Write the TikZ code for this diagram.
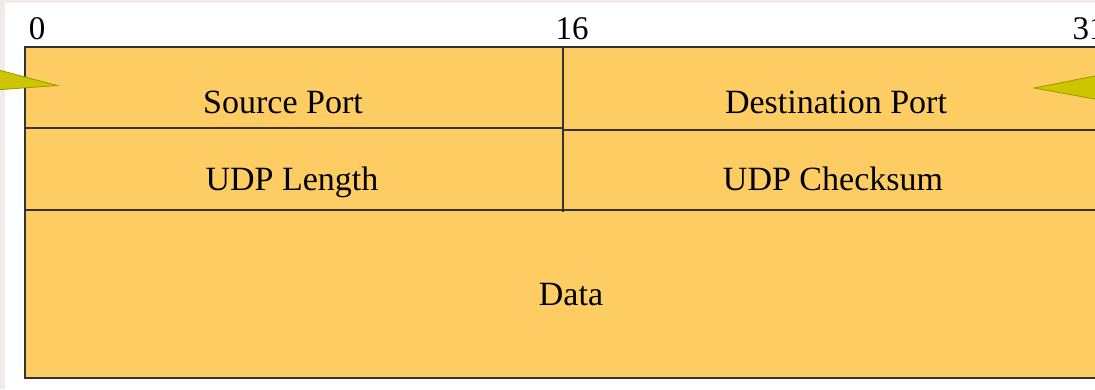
\documentclass[tikz,border=0pt]{standalone}
\usepackage{fontspec}
\setmainfont{Liberation Serif}
\definecolor{fieldfill}{HTML}{FDCD64}
\definecolor{lineclr}{HTML}{333333}
\definecolor{calloutfill}{HTML}{CCC600}
\definecolor{calloutline}{HTML}{9A9600}
\definecolor{pagebg}{HTML}{F3ECE6}
\tikzset{
  lbl/.style={font=\fontsize{34}{36}\selectfont, text=black, inner sep=0pt, anchor=base},
  bit/.style={font=\fontsize{33}{36}\selectfont, text=black, inner sep=0pt, anchor=base},
  rule/.style={draw=lineclr, line width=1.5pt},
  callout/.style={fill=calloutfill, draw=calloutline, line width=0.8pt}
}
\begin{document}
\begin{tikzpicture}[x=1pt,y=-1pt]
\useasboundingbox (0,0) rectangle (1095,389);
\fill[white] (0,0) rectangle (1095,389);
\fill[pagebg] (0,0) rectangle (1095,3);
\fill[pagebg] (0,0) rectangle (5,389);
\begin{scope}
\clip (0,0) rectangle (1095,389);
% fields
\fill[fieldfill] (25,47) rectangle (1100,378);
\node[lbl] (src) at (283,113) {Source Port};
\node[lbl] (dst) at (836,113.5) {Destination Port};
\node[lbl] (len) at (292,190.5) {UDP Length};
\node[lbl] (chk) at (833,190) {UDP Checksum};
\node[lbl] (data) at (571,305.5) {Data};
% grid lines
\coordinate (tl) at (25,47);
\coordinate (tr) at (1100,47);
\coordinate (bl) at (25,378);
\coordinate (br) at (1100,378);
\draw[rule] (tr) -- (tl) -- (bl) -- (br);
\draw[rule, line width=2.2pt] (bl) -- (br);
\draw[rule] (25,128) -- (563,128);
\draw[rule] (563,130) -- (1100,130);
\draw[rule] (25,210) -- (1100,210);
\draw[rule] (563,47) -- (563,212);
% callouts
\draw[callout] (-5,69) -- (57,85.5) -- (-5,90) -- cycle;
\draw[callout] (1100,75) -- (1034,88) -- (1100,100) -- cycle;
% bit numbers
\node[bit] (b0) at (37,39) {0};
\node[bit] (b16) at (572,39) {16};
\node[bit] (b31) at (1089,39) {31};
\end{scope}
\end{tikzpicture}
\end{document}
